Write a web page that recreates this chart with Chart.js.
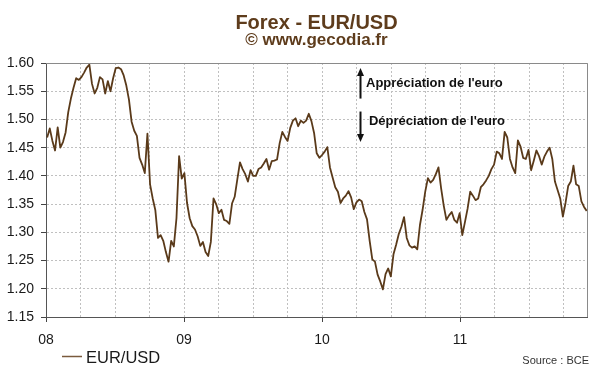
<!DOCTYPE html>
<html>
<head>
<meta charset="utf-8">
<title>Forex - EUR/USD</title>
<script src="https://cdn.jsdelivr.net/npm/chart.js@4.4.1/dist/chart.umd.min.js"></script>
<style>
  html, body { margin: 0; padding: 0; background: #fff; }
  #wrap { width: 600px; height: 372px; position: relative; }
</style>
</head>
<body>
<div id="wrap"><canvas id="fx"></canvas></div>
<script>
// weekly EUR/USD fixing (BCE), one value per week from the first date
const firstWeek = '2008-01-04';
const eurUsd = [
  1.468, 1.484, 1.462, 1.445, 1.486, 1.450, 1.460, 1.477, 1.513, 1.537,
  1.556, 1.573, 1.570, 1.575, 1.583, 1.592, 1.597, 1.563, 1.546, 1.556,
  1.575, 1.571, 1.546, 1.568, 1.550, 1.573, 1.591, 1.592, 1.589, 1.578,
  1.560, 1.535, 1.496, 1.480, 1.471, 1.432, 1.420, 1.405, 1.475, 1.385,
  1.360, 1.339, 1.290, 1.295, 1.285, 1.265, 1.248, 1.285, 1.275, 1.325,
  1.435, 1.395, 1.405, 1.352, 1.325, 1.311, 1.305, 1.293, 1.276, 1.283,
  1.265, 1.258, 1.283, 1.360, 1.350, 1.334, 1.340, 1.322, 1.320, 1.315,
  1.351, 1.363, 1.394, 1.424, 1.412, 1.403, 1.390, 1.410, 1.400, 1.400,
  1.412, 1.415, 1.422, 1.430, 1.411, 1.426, 1.427, 1.429, 1.458, 1.478,
  1.469, 1.462, 1.485, 1.498, 1.502, 1.488, 1.498, 1.494, 1.498, 1.510,
  1.497, 1.476, 1.440, 1.432, 1.437, 1.443, 1.451, 1.415, 1.397, 1.380,
  1.372, 1.352, 1.360, 1.365, 1.373, 1.362, 1.341, 1.353, 1.358, 1.355,
  1.336, 1.323, 1.285, 1.252, 1.248, 1.225, 1.213, 1.199, 1.226, 1.236,
  1.222, 1.261, 1.278, 1.297, 1.310, 1.327, 1.290, 1.277, 1.273, 1.275,
  1.270, 1.313, 1.340, 1.372, 1.396, 1.388, 1.393, 1.403, 1.415, 1.378,
  1.347, 1.322, 1.330, 1.336, 1.322, 1.317, 1.334, 1.295, 1.318, 1.342,
  1.372, 1.365, 1.357, 1.360, 1.380, 1.385, 1.392, 1.400, 1.412, 1.420,
  1.443, 1.440, 1.430, 1.478, 1.468, 1.430, 1.415, 1.405, 1.463, 1.452,
  1.432, 1.430, 1.446, 1.410, 1.427, 1.445, 1.435, 1.420, 1.434, 1.443,
  1.450, 1.430, 1.390, 1.375, 1.360, 1.328, 1.352, 1.382, 1.390, 1.418,
  1.385, 1.382, 1.355, 1.345, 1.338
];

const yearTicks = [2008, 2009, 2010, 2011];
const yearLabels = ['08', '09', '10', '11'];
const xMin = 2008, xMax = 2011.92;
const yMin = 1.15, yMax = 1.60, yStep = 0.05;

// annotation (arrows + texts) in data units
const arrowX = 2010.275;
const upArrow = [1.591, 1.537];
const downArrow = [1.514, 1.460];
const notes = [
  { text: "Appréciation de l'euro", x: 2010.319, y: 1.563 },
  { text: "Dépréciation de l'euro", x: 2010.340, y: 1.496 }
];

const BROWN = '#5a3a1a';
const TITLE = '#5e3c1c';
const FONT = 'Arial, "Liberation Sans", sans-serif';

// date -> année décimale
const DAY = 86400000;
function toYear(t) {
  const d = new Date(t);
  const y = d.getUTCFullYear();
  const start = Date.UTC(y, 0, 1), end = Date.UTC(y + 1, 0, 1);
  return y + (t - start) / (end - start);
}
const t0 = Date.parse(firstWeek + 'T00:00:00Z');
const points = eurUsd.map((v, i) => ({ x: toYear(t0 + i * 7 * DAY), y: v }));

function isYear(v) { return Math.abs(v - Math.round(v)) < 1e-6; }

const decor = {
  id: 'decor',
  afterDraw(chart) {
    const { ctx, chartArea: a, scales: { x, y } } = chart;
    ctx.save();

    // cadre haut + droite
    ctx.strokeStyle = '#8a8a8a';
    ctx.lineWidth = 1;
    ctx.beginPath();
    ctx.moveTo(a.left, a.top + 0.5);
    ctx.lineTo(a.right + 0.5, a.top + 0.5);
    ctx.lineTo(a.right + 0.5, a.bottom);
    ctx.stroke();

    // titre
    const cx = (a.left + a.right) / 2;
    ctx.fillStyle = TITLE;
    ctx.textAlign = 'center';
    ctx.textBaseline = 'alphabetic';
    ctx.font = 'bold 20px ' + FONT;
    ctx.fillText('Forex - EUR/USD', cx, 29);
    ctx.font = 'bold 17px ' + FONT;
    ctx.fillText('\u00A9 www.gecodia.fr', cx, 44.5);

    // flèches
    const ax = Math.round(x.getPixelForValue(arrowX)) + 0.5;
    ctx.strokeStyle = '#111';
    ctx.fillStyle = '#111';
    ctx.lineWidth = 2;
    const arrow = (yFrom, yTip) => {
      const p0 = y.getPixelForValue(yFrom), p1 = y.getPixelForValue(yTip);
      const dir = p1 > p0 ? 1 : -1;
      ctx.beginPath();
      ctx.moveTo(ax, p0);
      ctx.lineTo(ax, p1 - dir * 6);
      ctx.stroke();
      ctx.beginPath();
      ctx.moveTo(ax, p1);
      ctx.lineTo(ax - 3.5, p1 - dir * 8);
      ctx.lineTo(ax + 3.5, p1 - dir * 8);
      ctx.closePath();
      ctx.fill();
    };
    arrow(upArrow[1], upArrow[0]);
    arrow(downArrow[0], downArrow[1]);

    ctx.font = 'bold 13px ' + FONT;
    ctx.textAlign = 'left';
    ctx.textBaseline = 'middle';
    notes.forEach(n => ctx.fillText(n.text, x.getPixelForValue(n.x), y.getPixelForValue(n.y)));

    // légende
    const ly = 356.5;
    ctx.strokeStyle = '#7a5a3c';
    ctx.lineWidth = 1.5;
    ctx.beginPath();
    ctx.moveTo(a.left + 16, ly);
    ctx.lineTo(a.left + 36, ly);
    ctx.stroke();
    ctx.fillStyle = '#1a1a1a';
    ctx.font = '16.5px ' + FONT;
    ctx.textBaseline = 'alphabetic';
    ctx.fillText(chart.data.datasets[0].label, a.left + 40, 362.5);

    // source
    ctx.font = '11px "Liberation Sans Narrow", "Arial Narrow", ' + FONT;
    ctx.textAlign = 'right';
    ctx.fillStyle = '#333';
    ctx.fillText('Source : BCE', 589, 364);
    ctx.restore();
  }
};

new Chart(document.getElementById('fx').getContext('2d'), {
  type: 'line',
  data: {
    datasets: [{
      label: 'EUR/USD',
      data: points,
      borderColor: BROWN,
      borderWidth: 1.8,
      pointRadius: 0,
      tension: 0,
      fill: false,
      borderJoinStyle: 'round'
    }]
  },
  options: {
    responsive: true,
    maintainAspectRatio: false,
    animation: false,
    layout: { padding: { top: 63, right: 13, bottom: 0, left: 0 } },
    plugins: { legend: { display: false }, tooltip: { enabled: false } },
    scales: {
      x: {
        type: 'linear',
        min: xMin,
        max: xMax,
        afterBuildTicks: s => {
          const t = [];
          for (let q = 0; xMin + q * 0.25 < xMax - 1e-6; q++) t.push({ value: xMin + q * 0.25 });
          t.push({ value: xMax });
          s.ticks = t;
        },
        afterFit: s => { s.height = 55; },
        ticks: {
          autoSkip: false,
          maxRotation: 0,
          padding: 10,
          color: '#1a1a1a',
          font: { family: FONT, size: 14 },
          callback: v => {
            const i = yearTicks.findIndex(yr => Math.abs(yr - v) < 1e-6);
            return i >= 0 ? yearLabels[i] : '';
          }
        },
        grid: {
          color: '#c0c0c0',
          tickLength: 5,
          tickBorderDash: [],
          tickColor: c => (c.tick && isYear(c.tick.value)) ? '#444' : 'rgba(0,0,0,0)'
        },
        border: { color: '#555', dash: [2, 2] }
      },
      y: {
        min: yMin,
        max: yMax,
        afterFit: s => { s.width = 46; },
        ticks: {
          stepSize: yStep,
          padding: 7,
          color: '#1a1a1a',
          font: { family: FONT, size: 14 },
          callback: v => v.toFixed(2)
        },
        grid: {
          color: '#c0c0c0',
          tickLength: 5,
          tickBorderDash: [],
          tickColor: '#444'
        },
        border: { color: '#555', dash: [2, 2] }
      }
    }
  },
  plugins: [decor]
});
</script>
</body>
</html>
